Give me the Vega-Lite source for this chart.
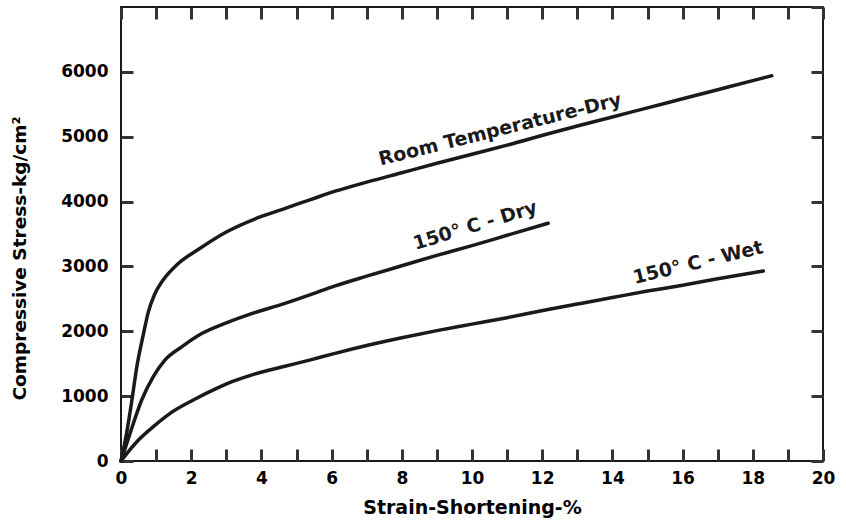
{
  "$schema": "https://vega.github.io/schema/vega-lite/v6.json",
  "width": 702,
  "height": 454,
  "autosize": "none",
  "padding": {"left": 121, "top": 7, "right": 23, "bottom": 63},
  "background": "white",
  "config": {
    "view": {"stroke": "#1a1a1a", "strokeWidth": 2},
    "font": "DejaVu Sans"
  },
  "datasets": {
    "curves": [
      {"series": "RT", "strain": 0, "stress": 0},
      {"series": "RT", "strain": 0.16, "stress": 430},
      {"series": "RT", "strain": 0.3, "stress": 900},
      {"series": "RT", "strain": 0.45, "stress": 1450},
      {"series": "RT", "strain": 0.64, "stress": 1960},
      {"series": "RT", "strain": 0.78, "stress": 2300},
      {"series": "RT", "strain": 0.95, "stress": 2560},
      {"series": "RT", "strain": 1.2, "stress": 2790},
      {"series": "RT", "strain": 1.6, "stress": 3030},
      {"series": "RT", "strain": 2.2, "stress": 3260},
      {"series": "RT", "strain": 3.0, "stress": 3530},
      {"series": "RT", "strain": 4.0, "stress": 3770},
      {"series": "RT", "strain": 4.7, "stress": 3900},
      {"series": "RT", "strain": 5.4, "stress": 4030},
      {"series": "RT", "strain": 6.1, "stress": 4160},
      {"series": "RT", "strain": 7, "stress": 4300},
      {"series": "RT", "strain": 8, "stress": 4445},
      {"series": "RT", "strain": 9, "stress": 4590},
      {"series": "RT", "strain": 10, "stress": 4730},
      {"series": "RT", "strain": 11, "stress": 4870},
      {"series": "RT", "strain": 12.2, "stress": 5050},
      {"series": "RT", "strain": 13, "stress": 5165},
      {"series": "RT", "strain": 14, "stress": 5305},
      {"series": "RT", "strain": 15, "stress": 5445},
      {"series": "RT", "strain": 16, "stress": 5585},
      {"series": "RT", "strain": 17, "stress": 5725},
      {"series": "RT", "strain": 18, "stress": 5865},
      {"series": "RT", "strain": 18.54, "stress": 5940},
      {"series": "D150", "strain": 0, "stress": 0},
      {"series": "D150", "strain": 0.26, "stress": 430},
      {"series": "D150", "strain": 0.59, "stress": 940},
      {"series": "D150", "strain": 0.92, "stress": 1300},
      {"series": "D150", "strain": 1.25, "stress": 1555},
      {"series": "D150", "strain": 1.73, "stress": 1760},
      {"series": "D150", "strain": 2.3, "stress": 1965},
      {"series": "D150", "strain": 3.0, "stress": 2130},
      {"series": "D150", "strain": 3.6, "stress": 2250},
      {"series": "D150", "strain": 4.67, "stress": 2430},
      {"series": "D150", "strain": 5.4, "stress": 2565},
      {"series": "D150", "strain": 6.1, "stress": 2700},
      {"series": "D150", "strain": 7, "stress": 2850},
      {"series": "D150", "strain": 8, "stress": 3010},
      {"series": "D150", "strain": 9, "stress": 3170},
      {"series": "D150", "strain": 10, "stress": 3320},
      {"series": "D150", "strain": 11, "stress": 3480},
      {"series": "D150", "strain": 12.17, "stress": 3666},
      {"series": "W150", "strain": 0, "stress": 0},
      {"series": "W150", "strain": 0.49, "stress": 320},
      {"series": "W150", "strain": 0.92, "stress": 530},
      {"series": "W150", "strain": 1.4, "stress": 735},
      {"series": "W150", "strain": 2.06, "stress": 940},
      {"series": "W150", "strain": 2.77, "stress": 1130},
      {"series": "W150", "strain": 3.2, "stress": 1230},
      {"series": "W150", "strain": 3.8, "stress": 1340},
      {"series": "W150", "strain": 4.67, "stress": 1460},
      {"series": "W150", "strain": 5.4, "stress": 1560},
      {"series": "W150", "strain": 6.1, "stress": 1660},
      {"series": "W150", "strain": 7, "stress": 1780},
      {"series": "W150", "strain": 8, "stress": 1900},
      {"series": "W150", "strain": 9, "stress": 2010},
      {"series": "W150", "strain": 10, "stress": 2110},
      {"series": "W150", "strain": 11, "stress": 2210},
      {"series": "W150", "strain": 12.2, "stress": 2340},
      {"series": "W150", "strain": 13, "stress": 2420},
      {"series": "W150", "strain": 14, "stress": 2520},
      {"series": "W150", "strain": 15, "stress": 2620},
      {"series": "W150", "strain": 16, "stress": 2710},
      {"series": "W150", "strain": 17, "stress": 2810},
      {"series": "W150", "strain": 18.3, "stress": 2930}
    ],
    "labels": [
      {"label": "Room  Temperature-Dry", "strain": 10.8, "stress": 5110, "angle": 346},
      {"label": "150°  C - Dry", "strain": 10.09, "stress": 3630, "angle": 343},
      {"label": "150°  C - Wet", "strain": 16.44, "stress": 3060, "angle": 346.5}
    ]
  },
  "resolve": {"axis": {"x": "independent", "y": "independent"}},
  "layer": [
    {
      "data": {"name": "curves"},
      "mark": {"type": "line", "interpolate": "monotone", "color": "#1a1a1a", "strokeWidth": 3.5, "strokeCap": "round"},
      "encoding": {
        "x": {
          "field": "strain", "type": "quantitative",
          "scale": {"domain": [0, 20], "nice": false, "zero": false},
          "axis": {
            "orient": "bottom",
            "title": "Strain-Shortening-%",
            "values": [0,1,2,3,4,5,6,7,8,9,10,11,12,13,14,15,16,17,18,19,20],
            "labelExpr": "datum.value % 2 === 0 ? datum.label : ''",
            "format": "d",
            "labelFlush": false,
            "labelOverlap": false,
            "tickSize": -12,
            "tickWidth": 3,
            "tickColor": "#333333",
            "domain": false,
            "grid": false,
            "labelFontWeight": "bold",
            "labelFontSize": 17,
            "labelPadding": 21,
            "titleFontWeight": "bold",
            "titleFontSize": 19,
            "titlePadding": 12
          }
        },
        "y": {
          "field": "stress", "type": "quantitative",
          "scale": {"domain": [0, 7000], "nice": false},
          "axis": {
            "orient": "left",
            "title": "Compressive  Stress-kg/cm²",
            "values": [0,1000,2000,3000,4000,5000,6000],
            "format": "d",
            "labelFlush": false,
            "tickSize": -12,
            "tickWidth": 3,
            "tickColor": "#333333",
            "domain": false,
            "grid": false,
            "labelFontWeight": "bold",
            "labelFontSize": 17,
            "labelPadding": 25,
            "titleFontWeight": "bold",
            "titleFontSize": 18.5,
            "titleY": 251,
            "titleX": -92
          }
        },
        "detail": {"field": "series"}
      }
    },
    {
      "data": {"name": "labels"},
      "mark": {"type": "text", "fontWeight": "bold", "fontSize": 19, "color": "#1a1a1a", "align": "center", "baseline": "middle"},
      "encoding": {
        "x": {
          "field": "strain", "type": "quantitative",
          "axis": {"orient": "top", "title": null, "offset": -12, "tickCount": 20, "labels": false, "tickSize": 12, "tickWidth": 3, "tickColor": "#333333", "domain": false, "grid": false}
        },
        "y": {
          "field": "stress", "type": "quantitative",
          "axis": {"orient": "right", "title": null, "tickCount": 7, "labels": false, "tickSize": -12, "tickWidth": 3, "tickColor": "#333333", "domain": false, "grid": false}
        },
        "text": {"field": "label"},
        "angle": {"field": "angle", "type": "quantitative", "scale": null}
      }
    }
  ]
}
